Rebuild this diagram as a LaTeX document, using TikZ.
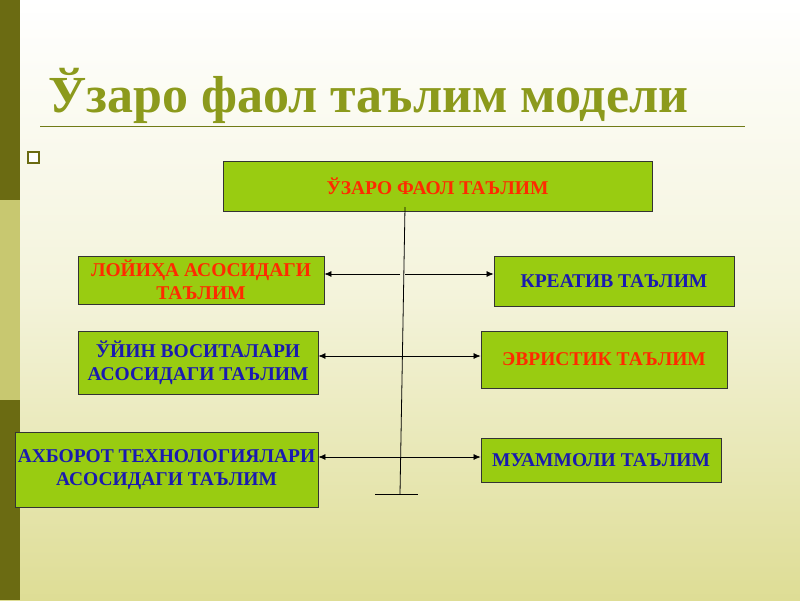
\documentclass[tikz,border=0pt]{standalone}
\usepackage{fontspec}
\setmainfont{Liberation Serif}
\usetikzlibrary{arrows.meta}
\definecolor{boxg}{HTML}{99CC11}
\definecolor{olive}{HTML}{6B6B12}
\definecolor{lolive}{HTML}{C8C870}
\definecolor{ttl}{HTML}{8C9A1C}
\definecolor{bgb}{HTML}{DEDD95}
\definecolor{tblue}{HTML}{1A1AB0}
\definecolor{tred}{HTML}{FF2A00}
\tikzset{
  bx/.style={draw=black!80, fill=boxg, line width=0.8pt, inner sep=0pt, font=\bfseries\fontsize{19.5}{23}\selectfont, align=center},
  con/.style={line width=0.7pt, -{Latex[length=7pt,width=6pt]}},
  con2/.style={line width=0.7pt, {Latex[length=7pt,width=6pt]}-{Latex[length=7pt,width=6pt]}}
}
\begin{document}
\begin{tikzpicture}[x=1pt,y=-1pt]
\useasboundingbox (0,0) rectangle (800,600);
\shade[top color=white, bottom color=bgb, middle color=white!65!bgb] (0,0) rectangle (800,600);
\fill[olive] (0,0) rectangle (20,200);
\fill[lolive] (0,200) rectangle (20,400);
\fill[olive] (0,400) rectangle (20,600);
\node (title) [anchor=west, text=ttl, inner sep=0pt, font=\bfseries\fontsize{52}{60}\selectfont] at (48,96) {Ўзаро фаол таълим модели};
\draw[ttl!80!black, line width=1pt] (40,126) -- (745,126);
\draw[olive, line width=2pt, fill=white] (28,152) rectangle (39,163);

\node (top) [bx, minimum width=429, minimum height=50, text=tred] at (437.5,186) {ЎЗАРО ФАОЛ ТАЪЛИМ};
\node (l1) [bx, minimum width=246, minimum height=48, text=tred] at (201,280) {ЛОЙИҲА АСОСИДАГИ\\ТАЪЛИМ};
\node (r1) [bx, minimum width=240, minimum height=50, text=tblue] at (614,281) {КРЕАТИВ ТАЪЛИМ};
\node (l2) [bx, minimum width=240, minimum height=63, text=tblue] at (198,362.5) {ЎЙИН ВОСИТАЛАРИ\\АСОСИДАГИ ТАЪЛИМ};
\node (r2) [bx, minimum width=246, minimum height=57, text=tred] at (604,359.5) {ЭВРИСТИК ТАЪЛИМ};
\node (l3) [bx, minimum width=303, minimum height=75, text=tblue] at (166.5,469.5) {АХБОРОТ ТЕХНОЛОГИЯЛАРИ\\АСОСИДАГИ ТАЪЛИМ};
\node (r3) [bx, minimum width=240, minimum height=44, text=tblue] at (601,460) {МУАММОЛИ ТАЪЛИМ};

\coordinate (vt) at (405,207);
\coordinate (vb) at (400,494);
\coordinate (m1) at (400,274);
\coordinate (m1b) at (405,274);
\draw[line width=0.8pt] (vt) -- (vb);
\draw[line width=0.8pt] (375,494) -- (418,494);
\draw[con] (m1) -- (l1.east |- m1);
\draw[con] (m1b) -- (r1.west |- m1b);
\draw[con2] (l2.east |- 0,356) -- (r2.west |- 0,356);
\draw[con2] (l3.east |- 0,457) -- (r3.west |- 0,457);
\end{tikzpicture}
\end{document}
